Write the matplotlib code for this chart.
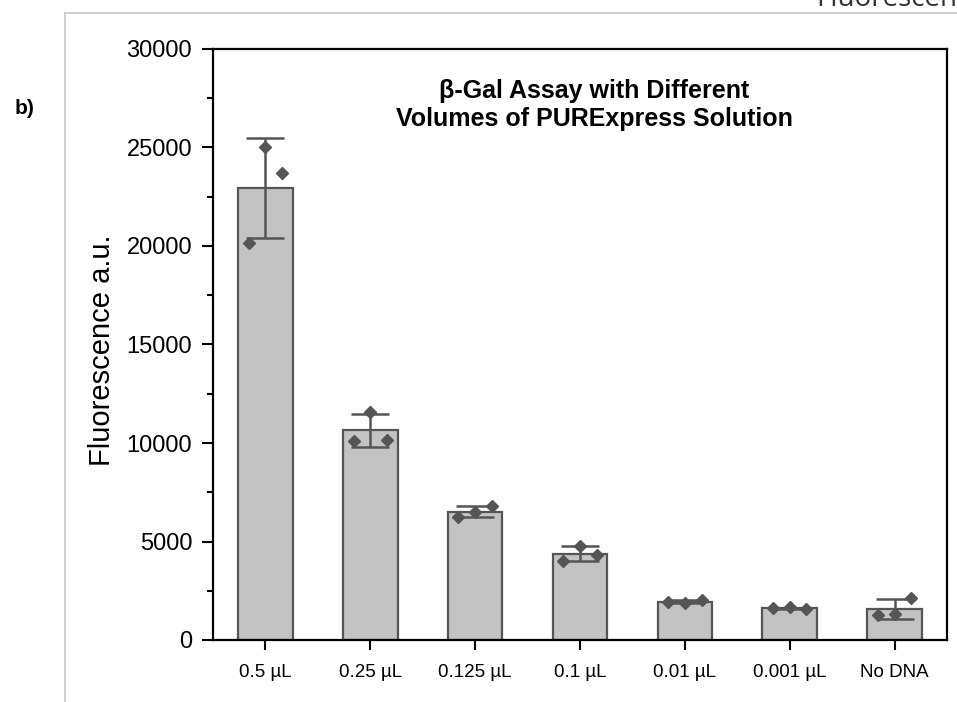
import matplotlib
matplotlib.use("Agg")
import matplotlib.pyplot as plt
from matplotlib.lines import Line2D
import numpy as np

plt.rcParams['font.family'] = ['Liberation Sans', 'DejaVu Sans']

categories = ["0.5 µL", "0.25 µL", "0.125 µL", "0.1 µL", "0.01 µL", "0.001 µL", "No DNA"]
means = [22950, 10650, 6520, 4380, 1950, 1600, 1590]
errors = [2520, 830, 260, 380, 60, 40, 500]
points = [
    [20150, 25000, 23700],
    [10100, 11590, 10150],
    [6250, 6480, 6780],
    [4010, 4790, 4315],
    [1920, 1900, 2020],
    [1610, 1650, 1570],
    [1270, 1300, 2150],
]
point_offsets = [-0.16, 0.0, 0.16]
title = "β-Gal Assay with Different\nVolumes of PURExpress Solution"
ylabel = "Fluorescence a.u."
yticks = [0, 5000, 10000, 15000, 20000, 25000, 30000]

W, H = 957, 702
fig = plt.figure(figsize=(W / 100, H / 100), dpi=100)
ax = fig.add_axes([213 / W, 1 - 640 / H, (947 - 213) / W, (640 - 49) / H])

x = np.arange(len(categories))
bar_face = "#c3c3c3"
dark = "#555555"
ax.bar(x, means, width=0.52, color=bar_face, edgecolor=dark, linewidth=1.6, zorder=2)
ax.errorbar(x, means, yerr=errors, fmt="none", ecolor=dark, elinewidth=1.8,
            capsize=14, capthick=1.8, zorder=3)
for i, pts in enumerate(points):
    ax.plot([x[i] + o for o in point_offsets], pts, linestyle="none", marker="D",
            markersize=6, color=dark, zorder=4)

ax.set_xlim(-0.5, len(categories) - 0.5)
ax.set_ylim(0, 30000)
ax.set_yticks(yticks)
ax.set_yticks(np.arange(2500, 30000, 5000), minor=True)
ax.set_yticklabels([str(v) for v in yticks], fontsize=17)
ax.set_xticks(x)
ax.set_xticklabels(categories, fontsize=13.5)
ax.tick_params(axis="y", which="major", direction="out", length=8, width=1.5, pad=7)
ax.tick_params(axis="y", which="minor", direction="out", length=4.5, width=1.5)
ax.tick_params(axis="x", which="major", direction="out", length=7.5, width=1.5, pad=10)
for s in ax.spines.values():
    s.set_linewidth(1.6)
    s.set_color("black")
ax.set_ylabel(ylabel, fontsize=21)
ax.yaxis.set_label_coords(116 / W, 1 - 350 / H, transform=fig.transFigure)

fig.text(594 / W, 1 - 105 / H, title, ha="center", va="center",
         fontsize=18, fontweight="bold", linespacing=1.2)

# surrounding elements of the screenshot
fig.text(34 / W, 1 - 108 / H, "b)", fontsize=15, fontweight="bold", ha="right", va="center")
fig.text(957 / W, 1 - 6 / H, "Fluorescen", fontsize=20, ha="right", va="baseline",
         color="#333333", family=["Open Sans", "DejaVu Sans"])
fig.add_artist(Line2D([65 / W, 1], [1 - 12.5 / H, 1 - 12.5 / H], transform=fig.transFigure,
                      color="#c8c8c8", linewidth=1.2))
fig.add_artist(Line2D([65 / W, 65 / W], [0, 1 - 12.5 / H], transform=fig.transFigure,
                      color="#c8c8c8", linewidth=1.2))

fig.savefig("out.png", dpi=100)
